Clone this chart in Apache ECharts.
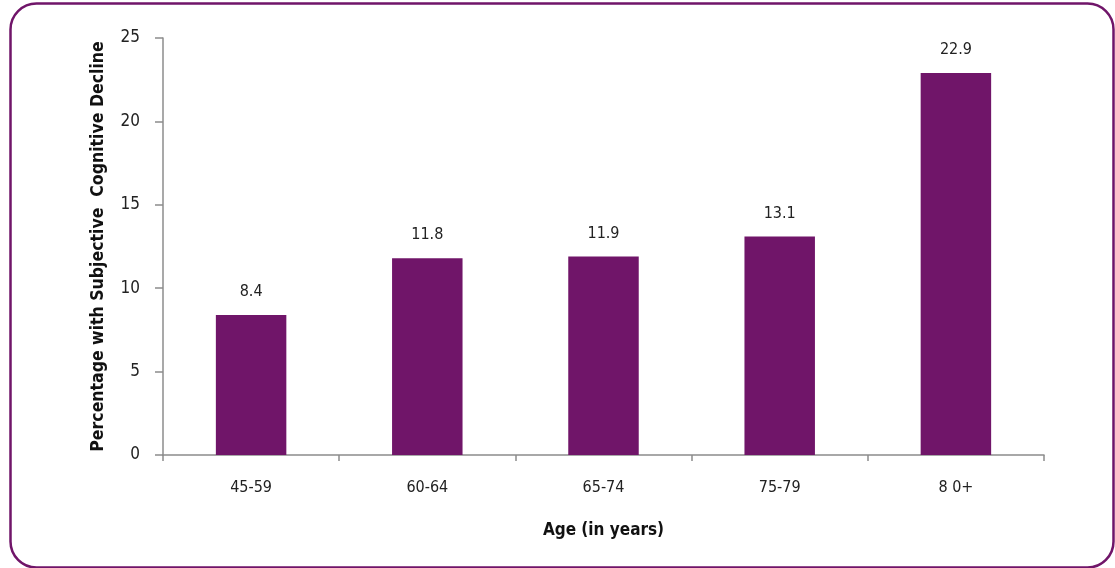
<!DOCTYPE html>
<html><head><meta charset="utf-8">
<script src="https://cdn.jsdelivr.net/npm/echarts@6/dist/echarts.min.js"></script>
<style>html,body{margin:0;padding:0;background:#fff}#c{width:1115px;height:568px}</style>
</head><body><div id="c"></div>
<script>
const categories = ['45-59', '60-64', '65-74', '75-79', '8 0+'];
const values = [8.4, 11.8, 11.9, 13.1, 22.9];
const yTicks = [0, 5, 10, 15, 20, 25];
const FONT = '"Liberation Sans Narrow", "DejaVu Sans Condensed", sans-serif';
const chart = echarts.init(document.getElementById('c'), null, {renderer: 'canvas'});
chart.setOption({
  animation: false,
  graphic: [{
    type: 'rect', left: 8, top: 1,
    shape: {width: 1103, height: 564, r: 26},
    style: {fill: 'none', stroke: '#701569', lineWidth: 2.5}
  }],
  grid: {left: 163, right: 71, top: 38, bottom: 113},
  xAxis: {
    type: 'category', data: categories,
    axisLine: {lineStyle: {color: '#8c8c8c', width: 1.5}},
    axisTick: {show: true, alignWithLabel: false, length: 6, lineStyle: {color: '#8c8c8c', width: 1.5}},
    axisLabel: {color: '#222', fontFamily: FONT, fontSize: 16, margin: 25},
    name: 'Age (in years)', nameLocation: 'middle', nameGap: 67,
    nameTextStyle: {color: '#111', fontFamily: FONT, fontSize: 17, fontWeight: 'bold'}
  },
  yAxis: {
    type: 'value', min: yTicks[0], max: yTicks[yTicks.length - 1], interval: 5,
    axisLine: {show: true, lineStyle: {color: '#8c8c8c', width: 1.5}},
    axisTick: {show: true, inside: false, length: 8, lineStyle: {color: '#8c8c8c', width: 1.5}},
    splitLine: {show: false},
    axisLabel: {color: '#222', fontFamily: FONT, fontSize: 17, margin: 23},
    name: 'Percentage with Subjective  Cognitive Decline', nameLocation: 'middle', nameGap: 56,
    nameTextStyle: {color: '#111', fontFamily: FONT, fontSize: 17.5, fontWeight: 'bold'}
  },
  series: [{
    type: 'bar', data: values, barWidth: '40%',
    itemStyle: {color: '#701569'},
    label: {show: true, position: 'top', distance: 15, color: '#222', fontFamily: FONT, fontSize: 16,
      formatter: p => p.value.toFixed(1)}
  }]
});
</script></body></html>
